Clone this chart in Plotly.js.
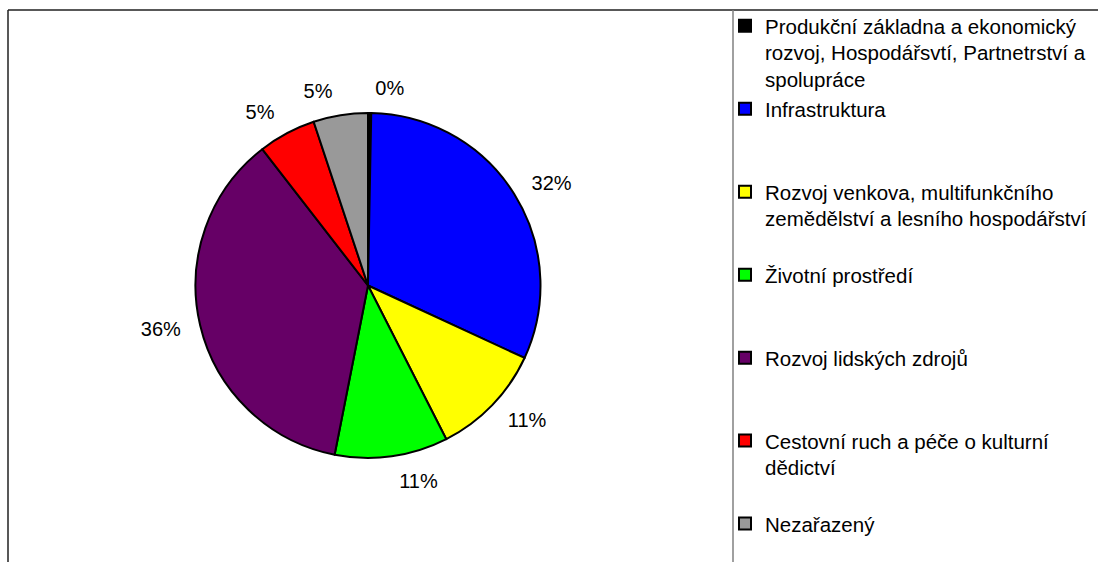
<!DOCTYPE html>
<html>
<head>
<meta charset="utf-8">
<script src="https://cdn.plot.ly/plotly-3.0.1.min.js"></script>
<style>html,body{margin:0;padding:0;background:#fff;}#chart{width:1098px;height:562px;}</style>
</head>
<body>
<div id="chart"></div>
<script>
// Categories (legend order = slice order, clockwise from 12 o'clock)
var categories = [
  "Produkční základna a ekonomický<br>rozvoj, Hospodářsvtí, Partnetrství a<br>spolupráce",
  "Infrastruktura",
  "Rozvoj venkova, multifunkčního<br>zemědělství a lesního hospodářství",
  "Životní prostředí",
  "Rozvoj lidských zdrojů",
  "Cestovní ruch a péče o kulturní<br>dědictví",
  "Nezařazený"
];
// Share values (percent)
var shares = [0.3, 31.6, 10.6, 10.6, 36.4, 5.4, 5.1];
var colors = ["#000000", "#0000FF", "#FFFF00", "#00FF00", "#660066", "#FF0000", "#999999"];
// blank lines used to spread the legend entries evenly, as in the original
var legendPad = [0, 2, 1, 2, 2, 1, 0];

var W = 1098, H = 562;
function px(x){ return x / W; }
function py(y){ return 1 - y / H; }

var labels = categories.map(function(c, i){
  var s = c;
  for (var k = 0; k < legendPad[i]; k++) s += "<br>&nbsp;";
  return s;
});

var font = {family: "Liberation Sans, Arial, sans-serif", size: 20, color: "#000000"};

// visible pie (no text)
var pie = {
  type: "pie",
  labels: labels,
  values: shares,
  sort: false,
  direction: "clockwise",
  rotation: 0,
  marker: {colors: colors, line: {color: "#000000", width: 2}},
  textinfo: "none",
  hoverinfo: "label+percent",
  domain: {x: [px(195.5), px(540.5)], y: [py(458), py(113)]},
  automargin: false
};

// transparent companion pies carrying the percentage labels a bit further out
// (the last slice's label is carried separately so that labels are not pushed apart)
var lastIdx = shares.length - 1;
function labelRing(showFn) {
  return {
    type: "pie",
    labels: labels,
    values: shares,
    sort: false,
    direction: "clockwise",
    rotation: 0,
    showlegend: false,
    marker: {colors: colors.map(function(){ return "rgba(0,0,0,0)"; }), line: {width: 0}},
    textposition: shares.map(function(v, i){ return showFn(i) ? "outside" : "none"; }),
    texttemplate: "%{percent:.0%}",
    textfont: font,
    outsidetextfont: font,
    hoverinfo: "skip",
    domain: {x: [px(181.5), px(554.5)], y: [py(472), py(99)]},
    automargin: false
  };
}
var ringA = labelRing(function(i){ return i !== lastIdx; });
var ringB = labelRing(function(i){ return i === lastIdx; });

var layout = {
  width: W, height: H,
  margin: {l: 0, r: 0, t: 0, b: 0, autoexpand: false},
  paper_bgcolor: "#ffffff",
  plot_bgcolor: "#ffffff",
  font: font,
  showlegend: true,
  legend: {
    xref: "paper", yref: "paper",
    x: px(725), y: py(6), xanchor: "left", yanchor: "top",
    valign: "top",
    maxheight: 2000,
    font: {family: "Liberation Sans, Arial, sans-serif", size: 20.5, color: "#000000"},
    bgcolor: "rgba(0,0,0,0)",
    borderwidth: 0,
    traceorder: "normal"
  },
  shapes: [
    {type: "line", xref: "paper", yref: "paper", x0: px(8), x1: 1, y0: py(10), y1: py(10), line: {color: "#202020", width: 1.5}},
    {type: "line", xref: "paper", yref: "paper", x0: px(8), x1: px(8), y0: py(10), y1: 0, line: {color: "#202020", width: 1.5}},
    {type: "line", xref: "paper", yref: "paper", x0: px(733), x1: px(733), y0: py(10), y1: 0, line: {color: "#808080", width: 1.5}}
  ]
};

Plotly.newPlot("chart", [pie, ringA, ringB], layout, {displayModeBar: false, staticPlot: true});
</script>
</body>
</html>
